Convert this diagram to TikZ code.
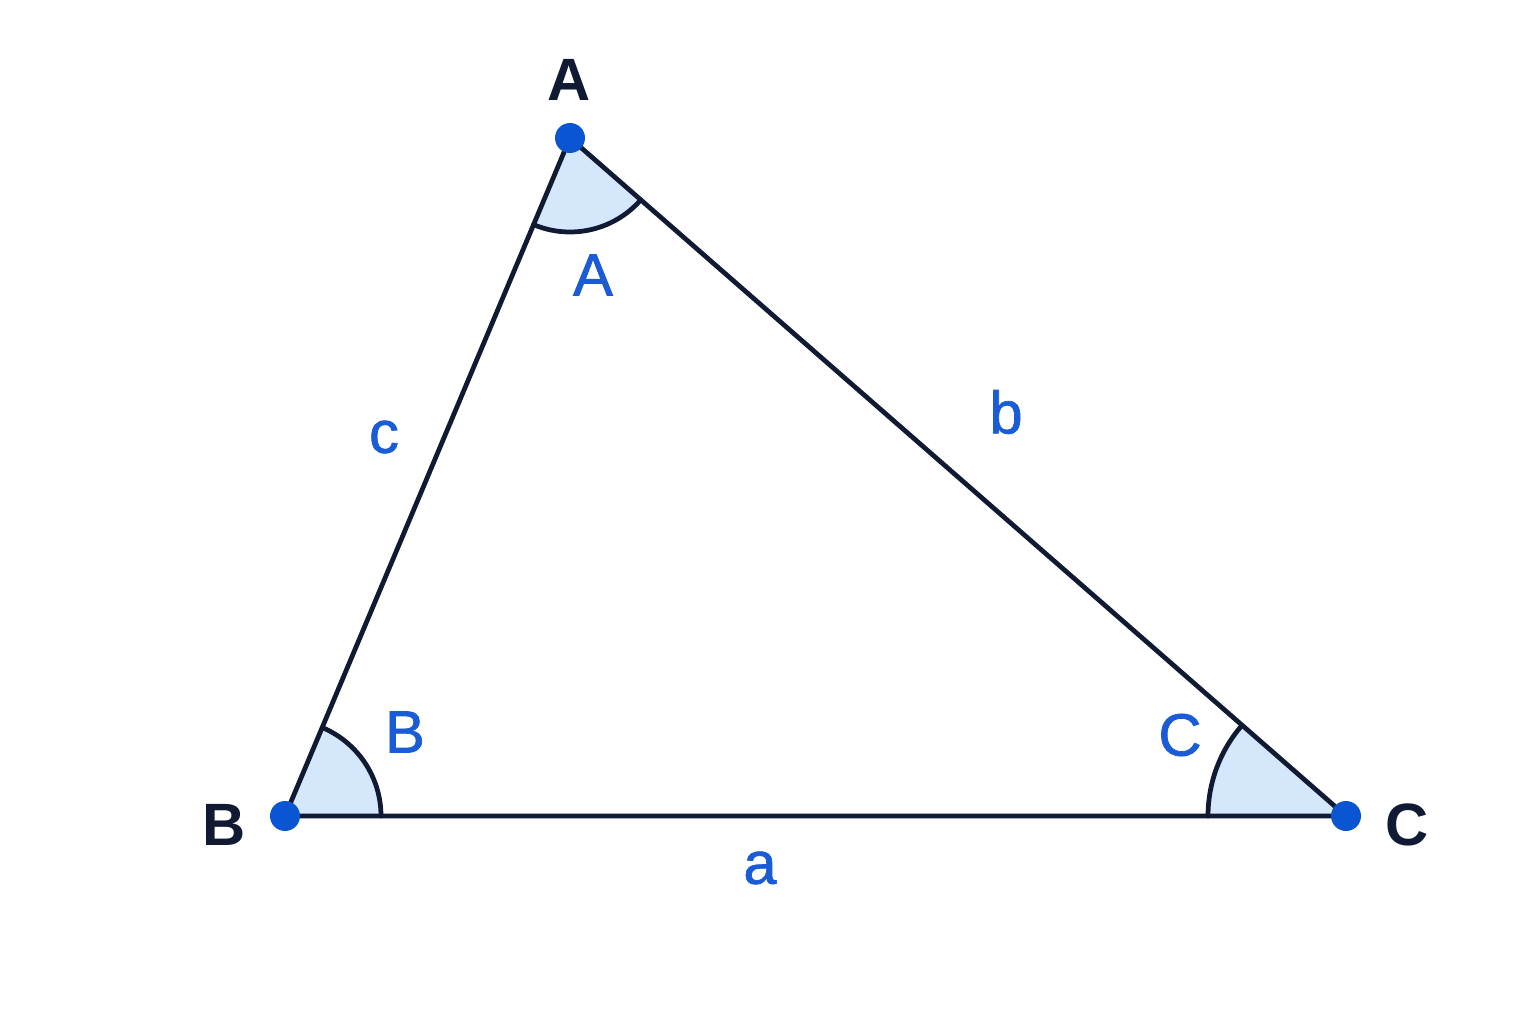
\documentclass[tikz,border=0pt]{standalone}
\usepackage{fontspec}
\setmainfont{Liberation Sans}
\newfontfamily\medfont{Liberation Sans}[FakeBold=1.2]
\definecolor{edge}{HTML}{111A33}
\definecolor{dotblue}{HTML}{0A55D2}
\definecolor{lblblue}{HTML}{1A5CD6}
\definecolor{wedge}{HTML}{D5E7FA}
\tikzset{
  side/.style={draw=edge, line width=1.35pt, line join=round, line cap=round},
  vtx/.style={fill=dotblue},
  vname/.style={text=edge, font=\fontsize{17}{20}\selectfont\bfseries},
  mname/.style={text=lblblue, font=\fontsize{17}{20}\medfont},
}
\begin{document}
\begin{tikzpicture}
	\useasboundingbox (0,0) rectangle (15.36,10.24);
	\fill[white] (0,0) rectangle (15.36,10.24);
	\coordinate (A) at (5.70,8.86);
	\coordinate (B) at (2.85,2.08);
	\coordinate (C) at (13.46,2.08);
	% angle wedges
	\fill[wedge] (A) -- ++(247.2:0.94) arc (247.2:318.9:0.94) -- cycle;
	\fill[wedge] (B) -- ++(0:0.96) arc (0:67.2:0.96) -- cycle;
	\fill[wedge] (C) -- ++(138.9:1.38) arc (138.9:180:1.38) -- cycle;
	\draw[side] (A) ++(247.2:0.94) arc (247.2:318.9:0.94);
	\draw[side] (B) ++(0:0.96) arc (0:67.2:0.96);
	\draw[side] (C) ++(138.9:1.38) arc (138.9:180:1.38);
	% sides
	\draw[side] (A) -- (B) -- (C) -- cycle;
	\foreach \p in {A,B,C}\fill[vtx] (\p) circle (0.15);
	% vertex names
	\node[vname] (nA) at (5.69,9.44) {A};
	\node[vname] (nB) at (2.24,1.99) {B};
	\node[vname] (nC) at (14.07,1.99) {C};
	% angle and side names
	\node[mname] (angA) at (5.93,7.49) {A};
	\node[mname] (angB) at (4.05,2.92) {B};
	\node[mname] (angC) at (11.80,2.89) {C};
	\node[mname] (sa) at (7.60,1.56) {a};
	\node[mname] (sb) at (10.06,6.12) {b};
	\node[mname] (sc) at (3.84,5.87) {c};
\end{tikzpicture}
\end{document}
